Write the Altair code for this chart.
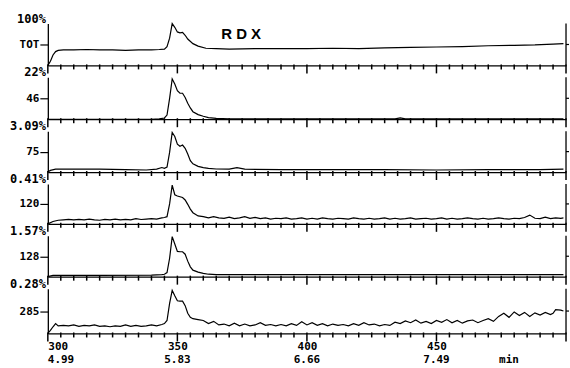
import altair as alt
import pandas as pd

# ---- data (scan number, fraction of panel full scale) ----
ions = ["TOT", "46", "75", "120", "128", "285"]
scale_labels = ["100%", "22%", "3.09%", "0.41%", "1.57%", "0.28%"]

ion_tot = [(300, 0.0), (301, 0.10), (302, 0.25), (303, 0.33), (304, 0.36), (306, 0.37), (310, 0.37),
           (315, 0.38), (320, 0.37), (325, 0.37), (330, 0.36), (335, 0.37), (340, 0.37), (343, 0.38),
           (345, 0.39), (346, 0.45), (347, 0.65), (348, 1.0), (349, 0.91), (350, 0.80), (351, 0.78),
           (352, 0.79), (353, 0.72), (354, 0.63), (356, 0.52), (358, 0.46), (361, 0.41), (365, 0.40),
           (370, 0.39), (380, 0.40), (390, 0.40), (400, 0.40), (410, 0.41), (420, 0.40), (430, 0.42),
           (440, 0.43), (450, 0.44), (460, 0.45), (470, 0.47), (480, 0.48), (488, 0.49), (495, 0.51),
           (499, 0.52)]

ion_46 = [(300, 0.0), (320, 0.0), (340, 0.0), (343, 0.01), (345, 0.03), (346, 0.10), (347, 0.50),
          (348, 0.96), (349, 0.84), (350, 0.68), (351, 0.62), (352, 0.62), (353, 0.52), (354, 0.38),
          (355, 0.27), (356, 0.18), (358, 0.11), (360, 0.07), (362, 0.04), (365, 0.02), (370, 0.01),
          (380, 0.01), (400, 0.01), (420, 0.01), (434, 0.01), (436, 0.03), (438, 0.01), (460, 0.01),
          (480, 0.01), (499, 0.01)]

ion_75 = [(300, 0.0), (301, 0.04), (303, 0.07), (310, 0.07), (320, 0.07), (330, 0.06), (338, 0.05),
          (342, 0.07), (344, 0.11), (345, 0.09), (346, 0.12), (347, 0.48), (348, 0.97), (349, 0.87),
          (350, 0.68), (351, 0.63), (352, 0.66), (353, 0.58), (354, 0.44), (355, 0.28), (356, 0.20),
          (358, 0.14), (360, 0.11), (362, 0.09), (365, 0.075), (370, 0.07), (373, 0.11), (376, 0.07),
          (390, 0.06), (410, 0.06), (430, 0.06), (450, 0.05), (470, 0.06), (490, 0.06), (499, 0.07)]

ion_120 = [(300, 0.00), (302, 0.06), (304, 0.09), (306, 0.10), (308, 0.11), (310, 0.10), (312, 0.11),
           (314, 0.10), (316, 0.12), (318, 0.10), (320, 0.09), (322, 0.11), (324, 0.10), (326, 0.12),
           (328, 0.10), (330, 0.11), (332, 0.10), (334, 0.13), (336, 0.11), (338, 0.12), (340, 0.13),
           (342, 0.12), (344, 0.15), (345, 0.16), (346, 0.18), (347, 0.50), (348, 0.97), (349, 0.73),
           (350, 0.70), (351, 0.68), (352, 0.66), (353, 0.60), (354, 0.49), (355, 0.37), (356, 0.28),
           (358, 0.20), (360, 0.18), (362, 0.15), (364, 0.18), (366, 0.15), (368, 0.14), (370, 0.17),
           (372, 0.13), (374, 0.15), (376, 0.18), (378, 0.14), (380, 0.16), (382, 0.13), (384, 0.15),
           (386, 0.12), (388, 0.14), (390, 0.13), (392, 0.15), (394, 0.12), (396, 0.13), (398, 0.15),
           (400, 0.12), (402, 0.14), (404, 0.12), (406, 0.15), (408, 0.13), (410, 0.12), (412, 0.14),
           (414, 0.13), (416, 0.12), (418, 0.15), (420, 0.13), (422, 0.12), (424, 0.14), (426, 0.12),
           (428, 0.13), (430, 0.15), (432, 0.12), (434, 0.14), (436, 0.12), (438, 0.13), (440, 0.15),
           (442, 0.12), (444, 0.13), (446, 0.14), (448, 0.12), (450, 0.13), (452, 0.15), (454, 0.12),
           (456, 0.14), (458, 0.12), (460, 0.13), (462, 0.15), (464, 0.13), (466, 0.12), (468, 0.14),
           (470, 0.12), (472, 0.13), (474, 0.15), (476, 0.13), (478, 0.12), (480, 0.14), (482, 0.13),
           (484, 0.16), (486, 0.22), (488, 0.14), (490, 0.13), (492, 0.17), (494, 0.13), (496, 0.15),
           (498, 0.14), (499, 0.15)]

ion_128 = [(300, 0.0), (302, 0.03), (320, 0.03), (340, 0.04), (344, 0.05), (345, 0.06), (346, 0.10),
           (347, 0.45), (348, 0.98), (349, 0.80), (350, 0.62), (351, 0.61), (352, 0.61), (353, 0.55),
           (354, 0.38), (355, 0.24), (356, 0.16), (358, 0.11), (360, 0.08), (362, 0.06), (365, 0.05),
           (370, 0.05), (400, 0.05), (430, 0.05), (460, 0.05), (480, 0.05), (499, 0.05)]

ion_285 = [(300, 0.0), (301, 0.07), (302, 0.15), (303, 0.22), (304, 0.17), (306, 0.18), (308, 0.17),
           (310, 0.19), (312, 0.16), (314, 0.18), (316, 0.17), (318, 0.19), (320, 0.16), (322, 0.17),
           (324, 0.15), (326, 0.17), (328, 0.16), (330, 0.19), (332, 0.16), (334, 0.18), (336, 0.16),
           (338, 0.17), (340, 0.19), (342, 0.17), (344, 0.20), (345, 0.22), (346, 0.29), (347, 0.67),
           (348, 0.96), (349, 0.84), (350, 0.73), (351, 0.72), (352, 0.72), (353, 0.62), (354, 0.45),
           (355, 0.36), (356, 0.33), (358, 0.31), (360, 0.29), (362, 0.22), (364, 0.27), (366, 0.19),
           (368, 0.21), (370, 0.17), (372, 0.23), (374, 0.17), (376, 0.21),
           (378, 0.17), (380, 0.19), (382, 0.24), (384, 0.18), (386, 0.20), (388, 0.17), (390, 0.20),
           (392, 0.17), (394, 0.22), (396, 0.18), (398, 0.26), (400, 0.19), (402, 0.24), (404, 0.18),
           (406, 0.22), (408, 0.17), (410, 0.21), (412, 0.18), (414, 0.20), (416, 0.17), (418, 0.22),
           (420, 0.18), (422, 0.24), (424, 0.19), (426, 0.21), (428, 0.17), (430, 0.20), (432, 0.18),
           (434, 0.25), (436, 0.22), (438, 0.28), (440, 0.24), (442, 0.30), (444, 0.23), (446, 0.27),
           (448, 0.22), (450, 0.29), (452, 0.25), (454, 0.31), (456, 0.24), (458, 0.29), (460, 0.23),
           (462, 0.28), (464, 0.30), (466, 0.24), (468, 0.29), (470, 0.33), (472, 0.27), (474, 0.38),
           (476, 0.45), (478, 0.36), (480, 0.48), (482, 0.40), (484, 0.47), (486, 0.38), (488, 0.46),
           (490, 0.41), (492, 0.47), (494, 0.42), (495, 0.45), (496, 0.53), (498, 0.52), (499, 0.50)]

series = [ion_tot, ion_46, ion_75, ion_120, ion_128, ion_285]

minor_ticks = [s for s in range(300, 501, 5) if s % 50 != 0]
major_ticks = [300, 350, 400, 450, 500]
label_scans = [300, 350, 400, 450]
label_times = ["4.99", "5.83", "6.66", "7.49"]
compound = "R D X"
compound_pos = (374.6, 0.76)
unit_text = "min"
unit_scan = 478

# ---- layout ----
W = 520
heights = [42, 42, 41, 40, 41, 45]
MONO = "DejaVu Sans Mono"

scan_label_expr = "indexof(" + str(label_scans) + ", datum.value) >= 0 ? datum.label : ''"


def make_panel(i):
    h = heights[i]
    last = i == len(ions) - 1
    df = pd.DataFrame(series[i], columns=["scan", "value"])

    xkw = dict(
        values=major_ticks, grid=False, title=None, ticks=False,
        domainColor="black", domainWidth=1.3, labels=last,
    )
    if last:
        xkw.update(labelExpr=scan_label_expr, labelFont=MONO, labelFontWeight="bold",
                   labelFontSize=11, labelColor="black", labelPadding=7,
                   labelOverlap=False)
    x = alt.X("scan:Q", scale=alt.Scale(domain=[300, 500], nice=False, zero=False),
              axis=alt.Axis(**xkw))
    y = alt.Y("value:Q", scale=alt.Scale(domain=[0, 1], nice=False),
              axis=alt.Axis(values=[0.5], labelExpr=f"'{ions[i]}'", tickSize=8,
                            labelPadding=1, grid=False, title=None,
                            domainColor="black", domainWidth=1.3, tickColor="black",
                            tickWidth=1.2,
                            labelFont=MONO, labelFontWeight="bold", labelFontSize=11,
                            labelColor="black"))

    line = alt.Chart(df).mark_line(color="black", strokeWidth=1.2).encode(x=x, y=y)

    small = alt.Chart(pd.DataFrame({"tick": minor_ticks})).mark_rule(
        color="black", strokeWidth=1.5).encode(
        x="tick:Q", y=alt.value(h - 1), y2=alt.value(h + 4))
    big = alt.Chart(pd.DataFrame({"tick": major_ticks})).mark_rule(
        color="black", strokeWidth=1.5).encode(
        x="tick:Q", y=alt.value(h - 1), y2=alt.value(h + 8))

    one = pd.DataFrame({"label": [scale_labels[i]]})
    edge = alt.Chart(one).mark_rule(color="black", strokeWidth=1.3).encode(
        x=alt.datum(500), y=alt.datum(0), y2=alt.datum(1))
    edge_tick = alt.Chart(one).mark_rule(color="black", strokeWidth=1.2).encode(
        x=alt.value(W), x2=alt.value(W + 3), y=alt.datum(0.5))
    pct = alt.Chart(one).mark_text(align="right", baseline="middle", font=MONO,
                                   fontWeight="bold", fontSize=12, color="black").encode(
        x=alt.value(-2), y=alt.value(-5), text="label:N")
    layers = [line, small, big, edge, edge_tick, pct]

    if i == 0:
        tdf = pd.DataFrame({"t": [compound]})
        layers.append(alt.Chart(tdf).mark_text(font="Liberation Sans", fontWeight="bold",
                                               fontSize=15, color="black").encode(
            x=alt.datum(compound_pos[0]), y=alt.datum(compound_pos[1]), text="t:N"))
    if last:
        tdf = pd.DataFrame({"scan": label_scans, "time": label_times})
        first_time = alt.Chart(tdf.iloc[:1]).mark_text(
            font=MONO, fontWeight="bold", fontSize=11, color="black",
            align="left", baseline="middle").encode(
            x="scan:Q", y=alt.value(h + 27), text="time:N")
        other_times = alt.Chart(tdf.iloc[1:]).mark_text(
            font=MONO, fontWeight="bold", fontSize=11, color="black",
            align="center", baseline="middle").encode(
            x="scan:Q", y=alt.value(h + 27), text="time:N")
        udf = pd.DataFrame({"t": [unit_text]})
        unit = alt.Chart(udf).mark_text(font=MONO, fontWeight="bold", fontSize=11,
                                        color="black", baseline="middle").encode(
            x=alt.datum(unit_scan), y=alt.value(h + 27), text="t:N")
        layers += [first_time, other_times, unit]

    return alt.layer(*layers).properties(width=W, height=h)


chart = alt.vconcat(*[make_panel(i) for i in range(len(ions))], spacing=12, bounds="flush").properties(
    padding={"left": 9, "top": 12, "right": 0, "bottom": 0},
    background="white",
).configure_view(strokeWidth=0)

chart.save("out.html", embed_options={"renderer": "svg", "actions": False})
